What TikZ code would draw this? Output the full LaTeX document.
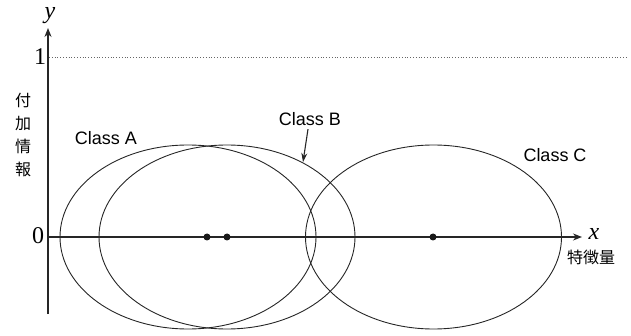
\documentclass[tikz,border=0pt]{standalone}
\usepackage{fontspec}
\setsansfont{Liberation Sans}
\newfontfamily\japonais{Noto Sans CJK JP}
\newfontfamily\serif{Liberation Serif}
\usetikzlibrary{arrows.meta}
\begin{document}
\begin{tikzpicture}[x=1pt,y=-1pt]
% Styles
\tikzstyle{axe}=[-{Stealth[length=9pt,width=7pt]},line width=1.6pt,black!85]
\tikzstyle{classe}=[line width=0.9pt,black!85]
\tikzstyle{pointille}=[dotted,line width=0.8pt,black!60]
\tikzstyle{centre}=[circle,fill=black!90,inner sep=0pt,minimum size=7pt]
\tikzstyle{etiquette}=[font=\sffamily\fontsize{18}{20}\selectfont]
\tikzstyle{graduation}=[font=\serif\fontsize{24}{26}\selectfont]
\tikzstyle{japonais}=[font=\japonais\fontsize{16}{23}\selectfont,align=center]
\tikzstyle{fleche}=[-{Stealth[length=9pt,width=6pt]},line width=1.1pt,black!85]
% Dimensions
\def\RayonX{128}
\def\RayonY{92}
\def\NiveauZero{237}
\def\NiveauUn{57}
\useasboundingbox (0,0) rectangle (631,336);
% Classes
\draw[classe] (188,\NiveauZero) ellipse [x radius=\RayonX, y radius=\RayonY];
\draw[classe] (227,\NiveauZero) ellipse [x radius=\RayonX, y radius=\RayonY];
\draw[classe] (433.5,\NiveauZero) ellipse [x radius=\RayonX, y radius=\RayonY];
% Axes
\coordinate (Ybas) at (48,314);
\coordinate (Yhaut) at (48,28);
\coordinate (Xdebut) at (48,\NiveauZero);
\coordinate (Xfin) at (582,\NiveauZero);
\coordinate (Undebut) at (49,\NiveauUn);
\coordinate (Unfin) at (626,\NiveauUn);
\draw[pointille] (Undebut)--(Unfin);
\draw[axe] (Ybas)--(Yhaut);
\draw[axe] (Xdebut)--(Xfin);
% Etiquettes des axes
\node[graduation,inner sep=0pt] (Y) at (50,16) {\textit{y}};
\node[graduation] (X) at (594,234) {\textit{x}};
\node[graduation] (Un) at (40,57) {1};
\node[graduation] (Zero) at (38,236) {0};
\node[japonais] (Info) at (23,135) {付\\加\\情\\報};
\node[japonais] (Trait) at (591,257) {特徴量};
% Centres
\node[centre] (moyA) at (207,\NiveauZero) {};
\node[centre] (moyB) at (227,\NiveauZero) {};
\node[centre] (moyC) at (433,\NiveauZero) {};
% Noms des classes
\node[etiquette] (classeA) at (106,138) {Class A};
\node[etiquette] (classeB) at (310,119) {Class B};
\node[etiquette] (classeC) at (555,155) {Class C};
\coordinate (bordB) at (303,162);
\draw[fleche] ([xshift=-2pt]classeB.south)--(bordB);
\end{tikzpicture}
\end{document}
